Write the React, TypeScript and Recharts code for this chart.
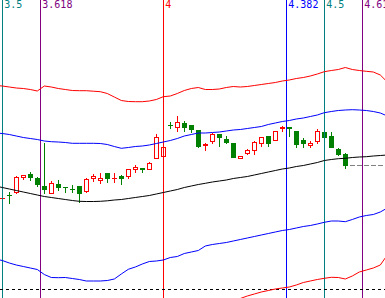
import React from 'react';
import { ComposedChart, XAxis, YAxis, Line, Bar, ReferenceLine } from 'recharts';

// candle index for each row of the envelope lines (-1 .. 55)
const lineIndex: number[] = Array.from({ length: 57 }, (_, k) => k - 1);

const upperRed: (number | null)[] = [
  21.45, 21.4, 21.3, 21.2, 21.15, 21.05, 20.9, 21.4, 21.3, 21.15, 21.05, 20.95, 20.93, 20.93, 20.88, 20.83,
  20.65, 20.3, 19.95, 19.85, 19.83, 19.83, 19.9, 20.05, 20.33, 20.4, 20.65, 20.95, 21.15, 21.25, 21.05, 21.05,
  21.1, 21.25, 21.35, 21.3, 21.35, 21.45, 21.55, 21.65, 21.75, 21.9, 22.0, 22.15, 22.25, 22.4, 22.6, 22.83,
  22.95, 23.05, 23.25, 23.05, 22.95, 22.87, 22.8, 22.5, 21.8,
];
const upperBlue: (number | null)[] = [
  16.7, 16.65, 16.55, 16.4, 16.25, 16.15, 16.05, 15.9, 15.83, 15.8, 15.75, 15.67, 15.67, 15.67, 15.67, 15.65,
  15.55, 15.35, 15.17, 15.25, 15.35, 15.4, 15.5, 15.65, 15.8, 15.95, 16.15, 16.4, 16.55, 16.7, 16.7, 16.75,
  16.8, 16.9, 17.0, 17.05, 17.15, 17.25, 17.35, 17.55, 17.7, 17.85, 17.95, 18.1, 18.2, 18.35, 18.5, 18.73,
  18.85, 18.95, 19.0, 19.03, 19.0, 18.95, 18.85, 18.7, 18.4,
];
const middleMA: (number | null)[] = [
  11.4, 11.25, 11.1, 10.95, 10.8, 10.65, 10.5, 10.35, 10.25, 10.15, 10.05, 9.95, 9.87, 9.85, 9.85, 9.87,
  9.92, 10.0, 10.05, 10.15, 10.25, 10.35, 10.45, 10.6, 10.75, 10.9, 11.05, 11.25, 11.4, 11.55, 11.67, 11.8,
  11.9, 12.0, 12.15, 12.25, 12.35, 12.5, 12.65, 12.8, 12.95, 13.1, 13.2, 13.35, 13.45, 13.6, 13.75, 13.95,
  14.05, 14.13, 14.17, 14.25, 14.3, 14.33, 14.4, 14.45, 14.5,
];
const lowerBlue: (number | null)[] = [
  4.1, 3.95, 3.7, 3.5, 3.35, 3.2, 3.05, 2.55, 2.25, 2.23, 2.25, 2.15, 2.05, 1.9, 1.9, 1.9,
  1.95, 2.1, 2.6, 3.07, 3.3, 3.6, 3.85, 3.9, 4.0, 4.25, 4.35, 4.65, 4.8, 4.95, 5.4, 5.55,
  5.65, 5.75, 5.9, 6.05, 6.2, 6.35, 6.5, 6.65, 6.8, 6.95, 7.05, 7.2, 7.35, 7.45, 7.6, 7.77,
  7.9, 7.9, 7.83, 8.05, 8.3, 8.45, 8.55, 8.8, 9.2,
];
const lowerRed: (number | null)[] = [
  null, null, null, null, null, null, null, null, null, null, null, null, null, null, null, null,
  null, null, null, null, null, null, null, null, null, null, null, null, null, null, null, -1.0,
  -0.6, -0.3, -0.1, 0.15, 0.4, 0.6, 0.8, 0.95, 1.1, 1.2, 1.3, 1.5, 1.75, 1.9, 2.05, 2.17,
  2.27, 2.25, 2.1, 2.4, 2.8, 3.0, 3.2, 3.5, 4.5,
];

// candles 0..49
const opens: number[] = [
  10.23, 10.5, 10.83, 12.33, 12.6, 12.17, 11.4, 10.67, 11.57, 11.33, 11.07, 11.4, 10.93, 12.17, 12.0, 12.67,
  12.17, 12.4, 12.4, 13.1, 13.23, 13.07, 14.17, 14.43, 17.5, 17.27, 17.67, 17.5, 17.0, 15.5, 15.93, 16.6,
  16.1, 15.65, 14.17, 14.73, 15.0, 15.67, 16.4, 16.0, 17.17, 17.33, 16.9, 16.0, 15.5, 15.95, 16.85, 16.4,
  15.07, 14.57,
];
const highs: number[] = [
  10.5, 10.77, 12.4, 12.5, 12.83, 12.33, 15.73, 11.93, 12.0, 11.33, 11.5, 11.4, 12.23, 12.57, 12.73, 12.67,
  12.73, 12.5, 13.07, 13.53, 13.23, 13.83, 16.6, 15.3, 17.83, 18.4, 17.93, 17.5, 17.0, 15.73, 16.73, 16.6,
  16.4, 15.65, 14.43, 15.1, 15.93, 16.27, 16.4, 16.9, 17.43, 17.33, 16.9, 16.23, 15.93, 17.15, 16.95, 16.77,
  15.23, 14.73,
];
const lows: number[] = [
  9.93, 9.73, 10.73, 12.07, 12.0, 11.4, 10.73, 10.67, 11.0, 10.77, 10.77, 9.83, 10.77, 11.93, 11.67, 11.83,
  11.83, 11.57, 12.17, 12.83, 12.83, 13.07, 14.17, 14.43, 17.17, 16.93, 16.93, 16.83, 15.33, 15.0, 15.67, 15.43,
  15.73, 14.33, 14.17, 14.6, 14.6, 15.43, 15.43, 16.0, 16.93, 16.4, 15.33, 15.27, 15.33, 15.65, 16.33, 15.33,
  14.5, 13.17,
];
const closes: number[] = [
  10.23, 10.49, 12.27, 12.5, 12.33, 11.57, 11.07, 11.73, 11.33, 11.32, 11.06, 10.73, 12.07, 12.4, 12.23, 12.23,
  12.17, 12.17, 13.07, 13.33, 13.1, 13.73, 16.27, 15.27, 17.49, 17.83, 17.27, 17.07, 15.43, 15.6, 16.6, 16.27,
  15.83, 14.33, 14.43, 15.0, 15.77, 16.27, 15.67, 16.9, 17.33, 17.17, 15.6, 15.67, 15.67, 16.95, 16.33, 15.33,
  14.6, 13.5,
];

// Fibonacci time-zone ratios and their colours
const fibRatios: number[] = [3.5, 3.618, 4, 4.382, 4.5, 4.618];
const fibLabels: string[] = ['3.5', '3.618', '4', '4.382', '4.5', '4.618'];
const fibColors: string[] = ['#008080', '#800080', '#ff0000', '#0000ff', '#008080', '#800080'];
const cycleStart = -161;
const cycleLength = 46;

const supportLevel = 1.05;

const RED = '#ff0000';
const GREEN = '#008000';

const rows = lineIndex.map((i, k) => {
  const c = i >= 0 && i < opens.length ? i : -1;
  return {
    i,
    upperRed: upperRed[k],
    upperBlue: upperBlue[k],
    ma: middleMA[k],
    lowerBlue: lowerBlue[k],
    lowerRed: lowerRed[k],
    open: c >= 0 ? opens[c] : null,
    high: c >= 0 ? highs[c] : null,
    low: c >= 0 ? lows[c] : null,
    close: c >= 0 ? closes[c] : null,
  };
});

const lastIndex = opens.length - 1;
const lastClose = closes[lastIndex];

const Candle = (props: any) => {
  const { x, y, width, height, payload } = props;
  if (!payload || payload.open == null || !isFinite(y) || !isFinite(height)) return null;
  const { open, close, high, low } = payload;
  const range = high - low;
  const toY = (p: number) => (range === 0 ? y : y + ((high - p) / range) * height);
  const up = close >= open;
  const color = up ? RED : GREEN;
  const c = Math.floor(x + width / 2);
  const yHigh = Math.round(toY(high));
  const yLow = Math.round(toY(low));
  const yTop = Math.round(toY(Math.max(open, close)));
  const yBot = Math.round(toY(Math.min(open, close)));
  const parts: React.ReactNode[] = [];
  parts.push(
    <line key="w" x1={c + 0.5} x2={c + 0.5} y1={yHigh} y2={yLow + 1} stroke={color} strokeWidth={1} shapeRendering="crispEdges" />
  );
  if (yBot - yTop < 1) {
    parts.push(
      <line key="d" x1={c - 2} x2={c + 3} y1={yTop + 0.5} y2={yTop + 0.5} stroke={color} strokeWidth={1} shapeRendering="crispEdges" />
    );
  } else if (up) {
    parts.push(
      <rect key="b" x={c - 1.5} y={yTop + 0.5} width={4} height={yBot - yTop} fill="#ffffff" stroke={color} strokeWidth={1} shapeRendering="crispEdges" />
    );
  } else {
    parts.push(
      <rect key="b" x={c - 2} y={yTop} width={5} height={yBot - yTop + 1} fill={color} shapeRendering="crispEdges" />
    );
  }
  return <g>{parts}</g>;
};

const makeLabel = (text: string, color: string) => (props: any) => {
  const vb = props.viewBox || {};
  return (
    <text x={(vb.x || 0) + 2} y={(vb.y || 0) + 8} fill={color} fontSize={10} fontFamily="'DejaVu Sans Mono', monospace">
      {text}
    </text>
  );
};

export default function App() {
  return (
    <div style={{ position: 'absolute', left: 0, top: 0, width: 385, height: 298, background: '#ffffff' }}>
      <ComposedChart width={385} height={298} data={rows} margin={{ top: 0, right: 0, bottom: 0, left: 0 }}>
        <XAxis dataKey="i" type="number" domain={[-0.33, 54.67]} allowDataOverflow hide />
        <YAxis type="number" domain={[0.2, 30]} allowDataOverflow hide />
        {fibRatios.map((r, k) => (
          <ReferenceLine
            key={fibLabels[k]}
            x={cycleStart + r * cycleLength}
            stroke={fibColors[k]}
            strokeWidth={1}
            shapeRendering="crispEdges"
            label={makeLabel(fibLabels[k], fibColors[k])}
          />
        ))}
        <ReferenceLine y={supportLevel} stroke="#000000" strokeDasharray="3 3" strokeWidth={1} shapeRendering="crispEdges" />
        <ReferenceLine
          segment={[{ x: lastIndex + 0.6, y: lastClose }, { x: 54.67, y: lastClose }]}
          stroke="#808080"
          strokeDasharray="5 2"
          strokeWidth={1}
          shapeRendering="crispEdges"
        />
        <Line dataKey="upperRed" stroke={RED} strokeWidth={1} dot={false} activeDot={false} type="linear" isAnimationActive={false} />
        <Line dataKey="upperBlue" stroke="#0000ff" strokeWidth={1} dot={false} activeDot={false} type="linear" isAnimationActive={false} />
        <Line dataKey="ma" stroke="#000000" strokeWidth={1} dot={false} activeDot={false} type="linear" isAnimationActive={false} />
        <Line dataKey="lowerBlue" stroke="#0000ff" strokeWidth={1} dot={false} activeDot={false} type="linear" isAnimationActive={false} />
        <Line dataKey="lowerRed" stroke={RED} strokeWidth={1} dot={false} activeDot={false} type="linear" isAnimationActive={false} />
        <Bar
          dataKey={(d: any) => (d.open == null ? null : [d.low, d.high])}
          barSize={5}
          shape={Candle}
          activeBar={false}
          isAnimationActive={false}
        />
      </ComposedChart>
    </div>
  );
}
